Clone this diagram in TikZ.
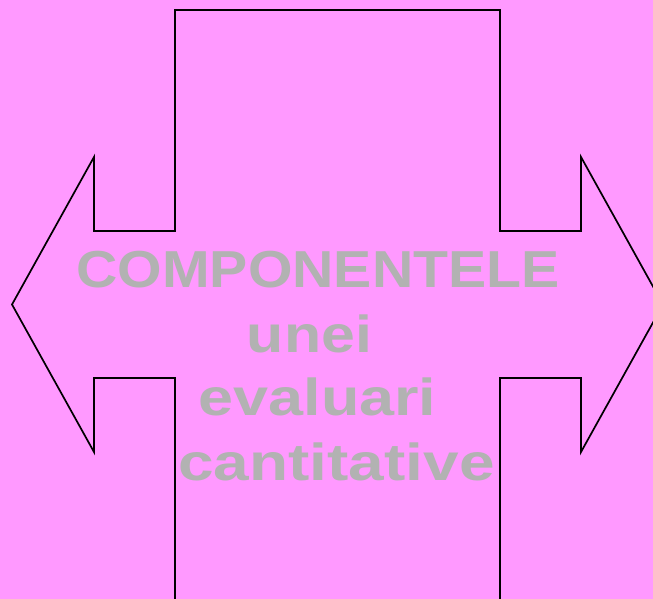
\documentclass[tikz,border=0pt]{standalone}
\usepackage{fontspec}
\setmainfont{Liberation Sans}
\definecolor{bgpink}{HTML}{FF99FF}
\definecolor{txtgray}{HTML}{B2B2B2}
\begin{document}
\begin{tikzpicture}[x=1pt,y=-1pt,
  outline/.style={draw=black,line width=1.7pt,line join=miter},
  label/.style={text=txtgray,font=\fontsize{52}{60}\selectfont\bfseries,anchor=base,inner sep=0pt}]
\fill[bgpink] (0,0) rectangle (653,599);
\useasboundingbox (0,0) rectangle (653,599);
\clip (0,0) rectangle (653,599);
\draw[outline] (175,10) -- (500,10) -- (500,231) -- (581,231) -- (581,157) -- (663,304.5)
  -- (581,452) -- (581,378) -- (500,378) -- (500,610) -- (175,610) -- (175,378)
  -- (94,378) -- (94,452) -- (12,304.5) -- (94,157) -- (94,231) -- (175,231) -- cycle;
\node[label] (l1) at (318,287) {\scalebox{1.10}[1]{COMPONENTELE}};
\node[label] (l2) at (309.5,352) {\scalebox{1.17}[1]{unei}};
\node[label] (l3) at (317.5,415) {\scalebox{1.21}[1]{evaluari}};
\node[label] (l4) at (336.5,480) {\scalebox{1.23}[1]{cantitative}};
\end{tikzpicture}
\end{document}
